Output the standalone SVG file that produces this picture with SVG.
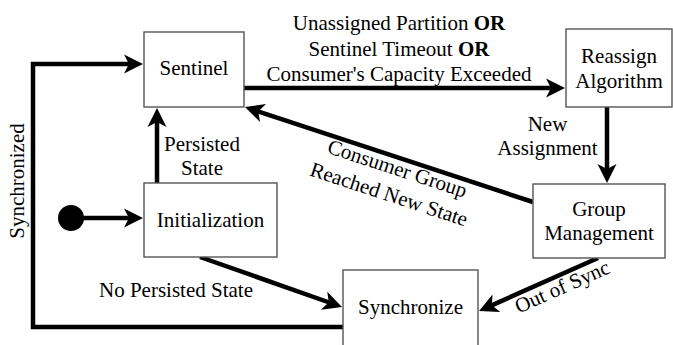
<svg xmlns="http://www.w3.org/2000/svg" width="673" height="345" viewBox="0 0 673 345">
<style>
  .box { fill: #ffffff; stroke: #555555; stroke-width: 1.4; }
  .lbl { font-family: 'Liberation Serif', 'DejaVu Serif', serif; font-size: 21px; fill: #000000; text-anchor: middle; }
  .edge { fill: none; stroke: #000000; stroke-width: 4.5; marker-end: url(#arrow); }
</style>
<defs>
  <marker id="arrow" markerUnits="userSpaceOnUse" markerWidth="30" markerHeight="30" viewBox="-10 -15 30 30" refX="0" refY="0" orient="auto">
    <path d="M12,0 L-7,-9.5 L-2,0 L-7,9.5 Z" fill="#000000"/>
  </marker>
</defs>
<rect width="673" height="345" fill="#ffffff"/>

<g id="connectors">
  <path class="edge" d="M244,88 L553,88"/>
  <path class="edge" d="M157,183 L157,120"/>
  <path class="edge" d="M71,218 L131,218"/>
  <path class="edge" d="M343,327 L33,327 L33,64 L131,64"/>
  <path class="edge" d="M533,202 L256.4,110.8"/>
  <path class="edge" d="M607,107 L607,171"/>
  <path class="edge" d="M598,258 L490,306.1"/>
  <path class="edge" d="M200,257 L330.7,303"/>
</g>

<g id="start">
  <circle cx="71" cy="218" r="13" fill="#000000"/>
</g>

<g id="sentinel">
  <rect class="box" x="144" y="32" width="100" height="75"/>
  <text class="lbl" x="194" y="75">Sentinel</text>
</g>
<g id="reassign">
  <rect class="box" x="566" y="29" width="106" height="78"/>
  <text class="lbl" x="619" y="63">Reassign</text>
  <text class="lbl" x="619" y="88">Algorithm</text>
</g>
<g id="initialization">
  <rect class="box" x="144" y="183" width="133" height="74"/>
  <text class="lbl" x="210.5" y="227">Initialization</text>
</g>
<g id="group-management">
  <rect class="box" x="533" y="184" width="132" height="74"/>
  <text class="lbl" x="599" y="216">Group</text>
  <text class="lbl" x="599" y="240">Management</text>
</g>
<g id="synchronize">
  <rect class="box" x="343" y="270" width="135" height="80"/>
  <text class="lbl" x="410.5" y="314">Synchronize</text>
</g>

<g id="edge-labels">
  <text class="lbl" x="399" y="30">Unassigned Partition <tspan font-weight="bold">OR</tspan></text>
  <text class="lbl" x="399" y="55.5">Sentinel Timeout <tspan font-weight="bold">OR</tspan></text>
  <text class="lbl" x="399" y="81">Consumer's Capacity Exceeded</text>
  <text class="lbl" x="202" y="151">Persisted</text>
  <text class="lbl" x="202" y="175">State</text>
  <text class="lbl" x="547.5" y="131">New</text>
  <text class="lbl" x="547.5" y="155">Assignment</text>
  <text class="lbl" x="176" y="297">No Persisted State</text>
  <text class="lbl" transform="translate(24,181) rotate(-90)">Synchronized</text>
  <g transform="translate(391,188) rotate(18.2)">
    <text class="lbl" x="0" y="-13.5">Consumer Group</text>
    <text class="lbl" x="0" y="13.5">Reached New State</text>
  </g>
  <text class="lbl" transform="translate(565,293) rotate(-24)">Out of Sync</text>
</g>
</svg>
